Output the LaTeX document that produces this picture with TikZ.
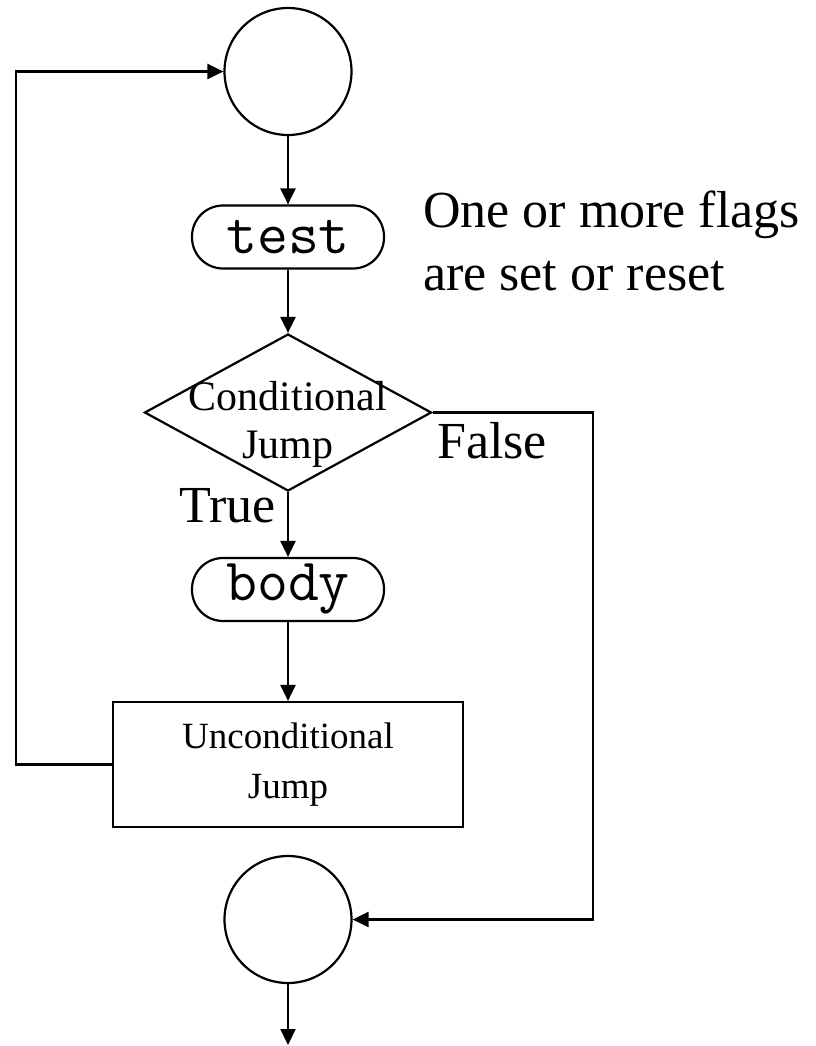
\documentclass[tikz,border=0pt]{standalone}
\usepackage{fontspec}
\setmainfont{Liberation Serif}
\usetikzlibrary{arrows.meta,shapes.geometric}

\begin{document}
\begin{tikzpicture}[x=1pt,y=-1pt,line width=2.2pt,>={Triangle[length=16pt,width=15pt]},
   term/.style={draw,circle,minimum size=127pt,inner sep=0pt},
   instr/.style={draw,rounded corners=31pt,minimum width=192pt,minimum height=63pt,
                 inner sep=0pt,font=\fontsize{60}{66}\selectfont\ttfamily},
   cond/.style={draw,diamond,aspect=1.82,minimum width=287pt,minimum height=157pt,inner sep=0pt},
   jbox/.style={draw,minimum width=350pt,minimum height=125pt,inner sep=0pt,align=center,
                font=\fontsize{37}{50}\selectfont},
   lbl/.style={inner sep=0pt,font=\fontsize{52}{63}\selectfont}]
  \useasboundingbox (0,0) rectangle (815,1046);
  \node[term] (start) at (288,71.5) {};
  \node[instr] (test) at (288,237) {test};
  \node[cond] (cj) at (288,412.5) {};
  \node[inner sep=0pt,align=center,font=\fontsize{42}{48}\selectfont] (cjtxt) at (288,424) {Conditional\\Jump};
  \node[instr] (body) at (288,589.5) {body};
  \node[jbox] (jmp) at (288,764.5) {Unconditional\\Jump};
  \node[term] (stop) at (288,919.5) {};
  \coordinate (out) at (288,1045);
  % labels
  \node[lbl,anchor=base east] (true) at (277,522) {True};
  \node[lbl,anchor=base west] (false) at (436,458) {False};
  \node[lbl,anchor=base west] (flags1) at (422,227) {One or more flags};
  \node[lbl,anchor=base west] (flags2) at (422,290) {are set or reset};
  % flow
  \draw[->] (start) -- (test);
  \draw[->] (test) -- (cj);
  \draw[->] (cj) -- (body);
  \draw[->] (body) -- (jmp);
  \draw[->] (jmp.west) -- ++(-96,0) |- (start.west);
  \draw[->] (cj.east) -- ++(160,0) |- (stop.east);
  \draw[->] (stop) -- (out);
\end{tikzpicture}
\end{document}
